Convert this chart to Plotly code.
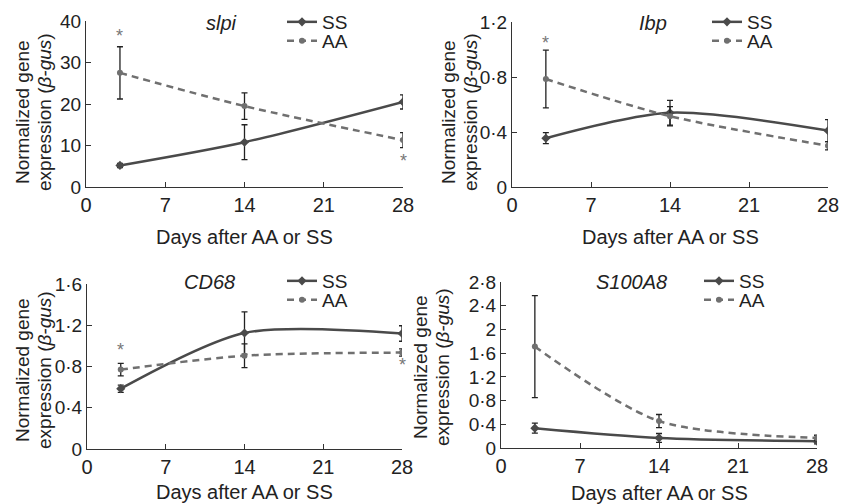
import plotly.graph_objects as go

days = [3, 14, 28]

# slpi
slpi_ss = [5.2, 10.8, 20.5]
slpi_ss_err = [0.5, 4.2, 1.7]
slpi_aa = [27.5, 19.5, 11.3]
slpi_aa_err = [6.3, 3.2, 1.8]
slpi_star_x = [3, 28]
slpi_star_y = [36.4, 6.3]

# Ibp
ibp_ss = [0.355, 0.54, 0.41]
ibp_ss_err = [0.04, 0.09, 0.08]
ibp_aa = [0.785, 0.515, 0.30]
ibp_aa_err = [0.21, 0.07, 0.03]
ibp_star_x = [3]
ibp_star_y = [1.05]

# CD68
cd68_ss = [0.585, 1.125, 1.12]
cd68_ss_err = [0.035, 0.205, 0.075]
cd68_aa = [0.77, 0.905, 0.935]
cd68_aa_err = [0.06, 0.115, 0.035]
cd68_star_x = [3, 28]
cd68_star_y = [0.96, 0.81]

# S100A8
s100_ss = [0.335, 0.17, 0.115]
s100_ss_err = [0.085, 0.075, 0.045]
s100_aa = [1.71, 0.455, 0.17]
s100_aa_err = [0.86, 0.11, 0.045]
s100_star_x = []
s100_star_y = []

x_ticks = [0, 7, 14, 21, 28]
slpi_yticks = [0, 10, 20, 30, 40]
slpi_ytext = ["0", "10", "20", "30", "40"]
ibp_yticks = [0, 0.4, 0.8, 1.2]
ibp_ytext = ["0", "0·4", "0·8", "1·2"]
cd68_yticks = [0, 0.4, 0.8, 1.2, 1.6]
cd68_ytext = ["0", "0·4", "0·8", "1·2", "1·6"]
s100_yticks = [0, 0.4, 0.8, 1.2, 1.6, 2.0, 2.4, 2.8]
s100_ytext = ["0", "0·4", "0·8", "1·2", "1·6", "2", "2·4", "2·8"]

titles = ["slpi", "Ibp", "CD68", "S100A8"]
ylab_lines = ["Normalized gene", "expression (<i>β-gus</i>)"]
xlab = "Days after AA or SS"

# page body has an 8px margin; figure sized to fit the 849x504 window exactly
OFF = 8
W, H = 849 - OFF, 504 - OFF


def px(x):
    return (x - OFF) / W


def py(y):
    return 1 - (y - OFF) / H


FONT = "Liberation Sans, Arial, Helvetica, sans-serif"
SS_COL = "#4a4a4a"
AA_COL = "#707070"
ERR_COL = "#222222"
TXT = "#222222"

# panel boxes in window pixels: (left, right, top, bottom)
panels = [
    dict(box=(86, 403, 21, 187), ss=slpi_ss, sse=slpi_ss_err, aa=slpi_aa, aae=slpi_aa_err,
         yr=40, yt=slpi_yticks, ytt=slpi_ytext, sx=slpi_star_x, sy=slpi_star_y,
         title_xy=(221, 23), leg=(282, 22, 41), ylab_x=(22, 44), ylab_y=112, xlab_y=237),
    dict(box=(512, 828, 22, 187), ss=ibp_ss, sse=ibp_ss_err, aa=ibp_aa, aae=ibp_aa_err,
         yr=1.2, yt=ibp_yticks, ytt=ibp_ytext, sx=ibp_star_x, sy=ibp_star_y,
         title_xy=(653, 23), leg=(707, 22, 41), ylab_x=(448, 470), ylab_y=112, xlab_y=237),
    dict(box=(87, 402, 284, 449), ss=cd68_ss, sse=cd68_ss_err, aa=cd68_aa, aae=cd68_aa_err,
         yr=1.6, yt=cd68_yticks, ytt=cd68_ytext, sx=cd68_star_x, sy=cd68_star_y,
         title_xy=(209, 282), leg=(282, 281, 300), ylab_x=(22, 44), ylab_y=370, xlab_y=492),
    dict(box=(501, 817, 282, 448), ss=s100_ss, sse=s100_ss_err, aa=s100_aa, aae=s100_aa_err,
         yr=2.8, yt=s100_yticks, ytt=s100_ytext, sx=s100_star_x, sy=s100_star_y,
         title_xy=(631, 282), leg=(699, 281, 300), ylab_x=(420, 442), ylab_y=367, xlab_y=493),
]

fig = go.Figure()
annotations = []
layout = {}

for i, p in enumerate(panels):
    n = "" if i == 0 else str(i + 1)
    xa, ya = "x" + n, "y" + n
    leg_ss = "legend" + ("" if i == 0 else str(2 * i + 1))
    leg_aa = "legend" + str(2 * i + 2)
    l, r, t, b = p["box"]
    layout["xaxis" + n] = dict(
        domain=[px(l), px(r)], range=[0, 28], anchor=ya,
        tickvals=x_ticks, ticktext=[str(v) for v in x_ticks],
        ticks="inside", ticklen=5, tickcolor="#333", showline=True, linecolor="#333",
        linewidth=1.2, showgrid=False, zeroline=False, ticklabelstandoff=0,
        tickfont=dict(family=FONT, size=20, color=TXT), fixedrange=True, automargin=False)
    layout["yaxis" + n] = dict(
        domain=[py(b), py(t)], range=[0, p["yr"]], anchor=xa,
        tickvals=p["yt"], ticktext=p["ytt"],
        ticks="inside", ticklen=5, tickcolor="#333", showline=True, linecolor="#333",
        linewidth=1.2, showgrid=False, zeroline=False, ticklabelstandoff=0,
        tickfont=dict(family=FONT, size=19, color=TXT), fixedrange=True, automargin=False)
    lx, ly1, ly2 = p["leg"]
    for key, yy in ((leg_ss, ly1), (leg_aa, ly2)):
        layout[key] = dict(
            x=px(lx), y=py(yy), xanchor="left", yanchor="middle",
            bgcolor="rgba(0,0,0,0)", font=dict(family=FONT, size=19, color=TXT),
            itemwidth=30)

    fig.add_trace(go.Scatter(
        x=days, y=p["ss"], name="SS", mode="lines+markers", xaxis=xa, yaxis=ya, legend=leg_ss,
        line=dict(color=SS_COL, width=2.5, shape="spline", smoothing=0.8),
        marker=dict(symbol="diamond", size=7, color=SS_COL),
        error_y=dict(type="data", array=p["sse"], color=ERR_COL, thickness=1.3, width=3)))
    fig.add_trace(go.Scatter(
        x=days, y=p["aa"], name="AA", mode="lines+markers", xaxis=xa, yaxis=ya, legend=leg_aa,
        line=dict(color=AA_COL, width=2.5, dash="7px,5px", shape="spline", smoothing=0.8),
        marker=dict(symbol="circle", size=6, color=AA_COL),
        error_y=dict(type="data", array=p["aae"], color=ERR_COL, thickness=1.3, width=3)))

    for sx, sy in zip(p["sx"], p["sy"]):
        annotations.append(dict(x=sx, y=sy, xref=xa, yref=ya, text="*", showarrow=False,
                                font=dict(family=FONT, size=18, color="#777")))

    annotations.append(dict(x=px(p["title_xy"][0]), y=py(p["title_xy"][1]), xref="paper",
                            yref="paper", text="<i>%s</i>" % titles[i], showarrow=False,
                            xanchor="center", yanchor="middle",
                            font=dict(family=FONT, size=20, color=TXT)))
    annotations.append(dict(x=px((l + r) / 2), y=py(p["xlab_y"]), xref="paper", yref="paper",
                            text=xlab, showarrow=False, xanchor="center",
                            yanchor="middle", font=dict(family=FONT, size=20, color=TXT)))
    for line_text, lxpos in zip(ylab_lines, p["ylab_x"]):
        annotations.append(dict(x=px(lxpos), y=py(p["ylab_y"]), xref="paper", yref="paper",
                                text=line_text, showarrow=False,
                                textangle=-90, xanchor="center", yanchor="middle",
                                font=dict(family=FONT, size=19, color=TXT)))

fig.update_layout(
    width=W, height=H, margin=dict(l=0, r=0, t=0, b=0, autoexpand=False),
    paper_bgcolor="white", plot_bgcolor="white", showlegend=True,
    annotations=annotations, **layout)

fig.write_html("out.html")
